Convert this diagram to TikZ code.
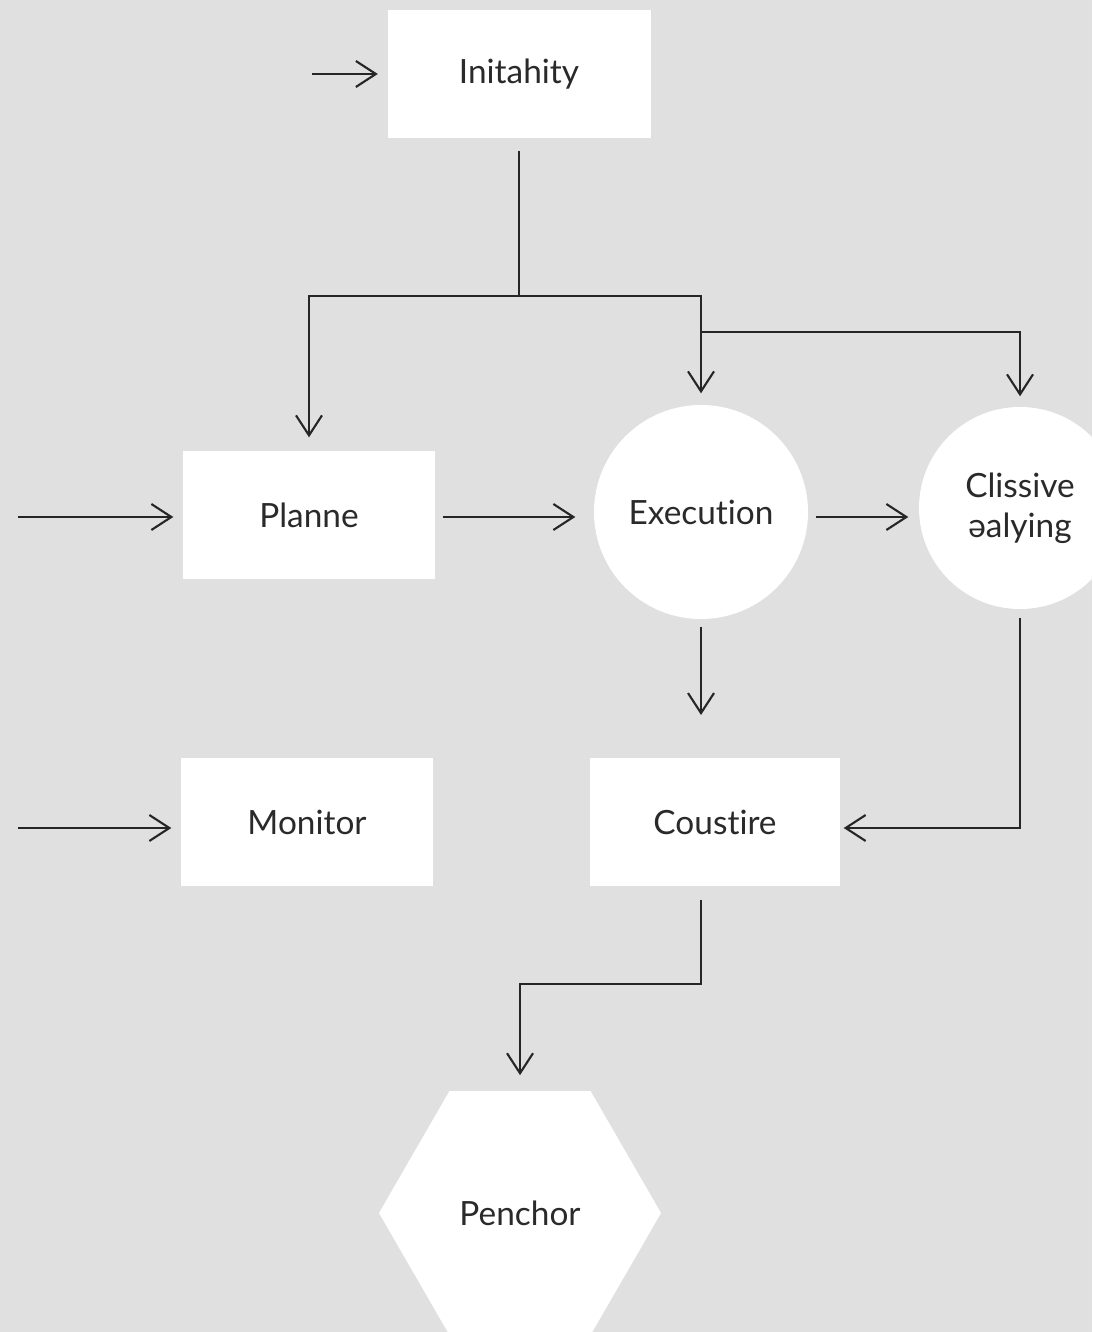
\documentclass[tikz,border=0pt]{standalone}
\usepackage{fontspec}
\setmainfont{Lato}[Ligatures={NoCommon}]
\usepackage{tikz}
\usetikzlibrary{positioning,arrows.meta,shapes}
\definecolor{bgcol}{HTML}{E0E0E0}
\definecolor{linecol}{HTML}{262626}
\definecolor{textcol}{HTML}{2A2A2A}

\begin{document}
\begin{tikzpicture}[
    font=\fontsize{9.5}{11.5}\selectfont\color{textcol},
    box/.style={fill=white, minimum width=2.52cm, minimum height=1.28cm, align=center, inner sep=0pt},
    roundbox/.style={circle, fill=white, align=center, inner sep=0pt},
    hexbox/.style={regular polygon, regular polygon sides=6, fill=white, minimum size=2.82cm, inner sep=0pt},
    arrow/.style={-{Straight Barb[length=2mm, width=2.6mm]}, line width=0.6pt, draw=linecol}
]
    \path[use as bounding box] (0,0) rectangle (10.92,-13.32);
    \clip (0,0) rectangle (10.92,-13.32);
    \fill[bgcol] (0,0) rectangle (10.92,-13.32);

    \node[box, minimum width=2.63cm] (init) at (5.19,-0.74) {Initahity};
    \node[box] (plan) at (3.09,-5.15) {Planne};
    \node[roundbox, minimum size=2.14cm] (exec) at (7.01,-5.12) {Execution};
    \node[roundbox, minimum size=2.02cm] (cliss) at (10.2,-5.08) {Clissive\\əalying};
    \node[box] (mon) at (3.07,-8.22) {Monitor};
    \node[box, minimum width=2.5cm] (cous) at (7.15,-8.22) {Coustire};
    \node[hexbox] (pench) at (5.2,-12.13) {Penchor};

    \coordinate (in0) at (3.12,-0.74);
    \coordinate (in1) at (0.18,-5.17);
    \coordinate (in2) at (0.18,-8.28);
    \coordinate (split) at (5.19,-2.96);
    \coordinate (down) at (7.01,-7.15);

    \draw[arrow, shorten >=0.09cm] (in0) -- (init.west);
    \draw[arrow, shorten <=0.12cm, shorten >=0.13cm] (init.south) -- (split) -| (plan.north);
    \draw[arrow, shorten >=0.11cm] (split) -| (exec.north);
    \draw[arrow, shorten >=0.1cm] (exec.north |- 0,-3.32) -| (cliss.north);

    \draw[arrow, shorten >=0.09cm] (in1) -- (in1 -| plan.west);
    \draw[arrow, shorten <=0.07cm, shorten >=0.18cm] (plan.east |- in1) -- (in1 -| exec.west);
    \draw[arrow, shorten <=0.07cm, shorten >=0.1cm] (exec.east |- in1) -- (in1 -| cliss.west);

    \draw[arrow, shorten <=0.07cm] (exec.south) -- (down);
    \draw[arrow, shorten <=0.08cm, shorten >=0.03cm] (cliss.south) |- (cous.east |- in2);

    \draw[arrow, shorten >=0.09cm] (in2) -- (in2 -| mon.west);
    \draw[arrow, shorten <=0.13cm, shorten >=0.15cm] (cous.south -| down) -- ++(0,-0.97) -| (pench.north);
\end{tikzpicture}
\end{document}
